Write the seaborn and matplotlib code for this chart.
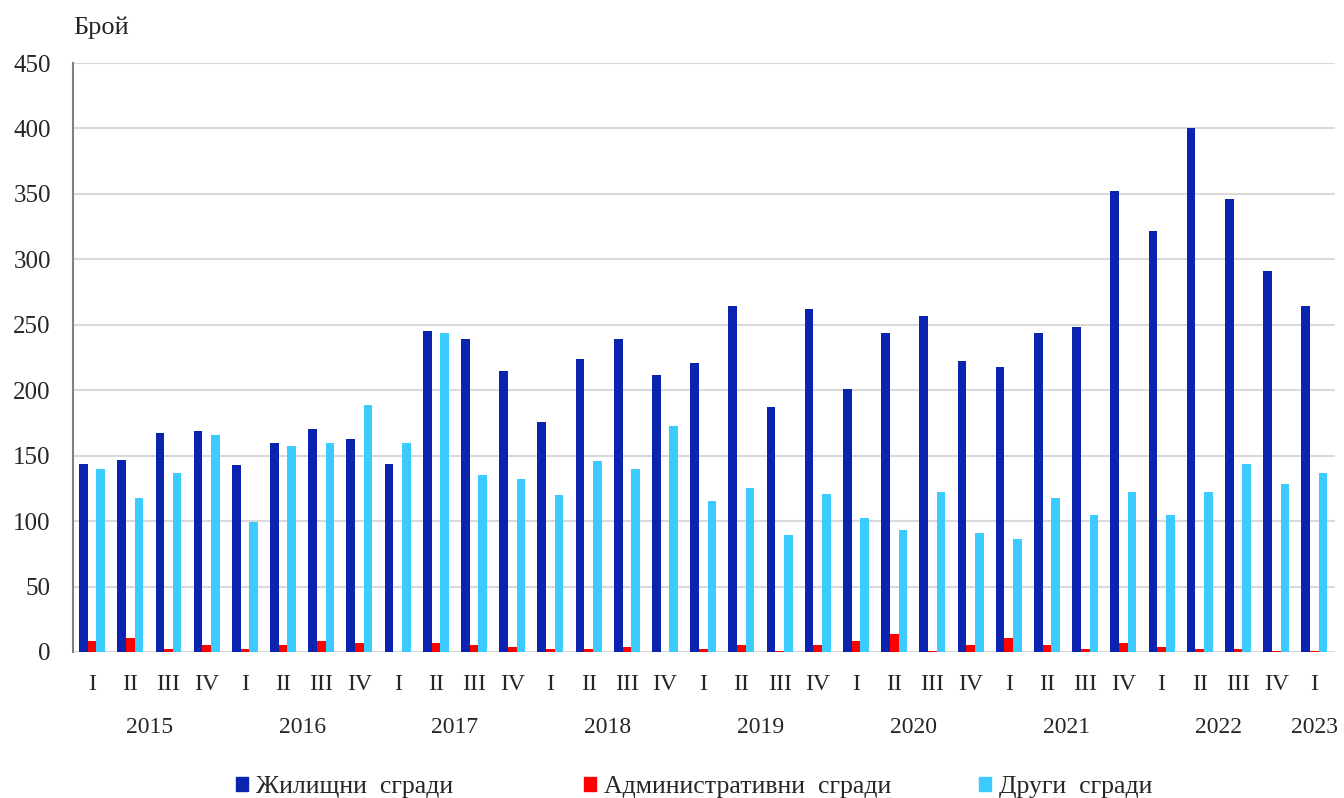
import matplotlib
matplotlib.use("Agg")
import matplotlib.pyplot as plt
import matplotlib.patches as mpatches
import matplotlib.transforms as mtransforms
import numpy as np
import pandas as pd
import seaborn as sns

# ─── Данни ──────────────────────────────────────────────────────────────
years = ["2015", "2016", "2017", "2018", "2019", "2020", "2021", "2022", "2023"]
quarters = ["I", "II", "III", "IV"] * 8 + ["I"]

residential = [144, 147, 167, 169, 143, 160, 170, 163, 144, 245, 239, 215,
               176, 224, 239, 212, 221, 264, 187, 262, 201, 244, 257, 222,
               218, 244, 248, 352, 322, 400, 346, 291, 264]
administrative = [8, 11, 2, 5, 2, 5, 8, 7, 0, 7, 5, 4,
                  2, 2, 4, 0, 2, 5, 1, 5, 8, 14, 1, 5,
                  11, 5, 2, 7, 4, 2, 2, 1, 1]
other = [140, 118, 137, 166, 99, 157, 160, 189, 160, 244, 135, 132,
         120, 146, 140, 173, 115, 125, 89, 121, 102, 93, 122, 91,
         86, 118, 105, 122, 105, 122, 144, 128, 137]

series_names = ["Жилищни  сгради", "Административни  сгради", "Други  сгради"]
colors = ["#0A24B0", "#FF0000", "#3CCBFF"]

period = [f"{2015 + i // 4}-{q}" for i, q in enumerate(quarters)]
df = pd.DataFrame({
    "period": period * 3,
    "value": residential + administrative + other,
    "series": np.repeat(series_names, len(period)),
})

# ─── Фигура ─────────────────────────────────────────────────────────────
sns.set_style("white")
plt.rcParams["font.family"] = ["Liberation Serif", "DejaVu Serif"]

fig = plt.figure(figsize=(13.44, 7.98), dpi=100)
ax = fig.add_axes([73 / 1344, 0.183, 1262 / 1344, 0.738])

sns.barplot(data=df, x="period", y="value", hue="series", order=period,
            hue_order=series_names, palette=colors, width=0.68,
            saturation=1, linewidth=0, legend=False, ax=ax)

ax.set_ylim(0, 450)
ax.set_yticks(range(0, 451, 50))
ax.set_xlim(-0.5, 32.54)
ax.yaxis.grid(True, color="#d9d9d9", linewidth=1.5)
ax.set_axisbelow(True)
for s in ["top", "right", "bottom"]:
    ax.spines[s].set_visible(False)
ax.spines["left"].set_color("#808080")
ax.spines["left"].set_linewidth(1.5)
ax.tick_params(axis="y", direction="out", length=6, width=1.5,
               color="#808080", labelsize=18, pad=10)
ax.tick_params(axis="x", length=0, labelsize=17, pad=16)
ax.set_xticks(range(len(period)))
ax.set_xticklabels(quarters)
ax.set_xlabel("")
ax.set_ylabel("")

# години под тримесечията
trans = mtransforms.blended_transform_factory(ax.transData, ax.transAxes)
for i, yr in enumerate(years):
    idx = [k for k, p in enumerate(period) if p.startswith(yr)]
    ax.text(np.mean(idx), -0.128, yr, transform=trans, ha="center",
            va="center", fontsize=17)

fig.text(73 / 1344, 0.965, "Брой", fontsize=19, va="center")

# легенда — три отделни записа, както в оригинала
legend_x = [236, 584, 979]
for c, n, x in zip(colors, series_names, legend_x):
    leg = fig.legend(handles=[mpatches.Patch(color=c, label=n)],
                     loc="center left", bbox_to_anchor=(x / 1344, 0.014),
                     frameon=False, fontsize=18.5, handlelength=0.47,
                     handleheight=0.47, handletextpad=0.3,
                     borderpad=0, borderaxespad=0)

fig.savefig("out.png", dpi=100)
plt.close()
